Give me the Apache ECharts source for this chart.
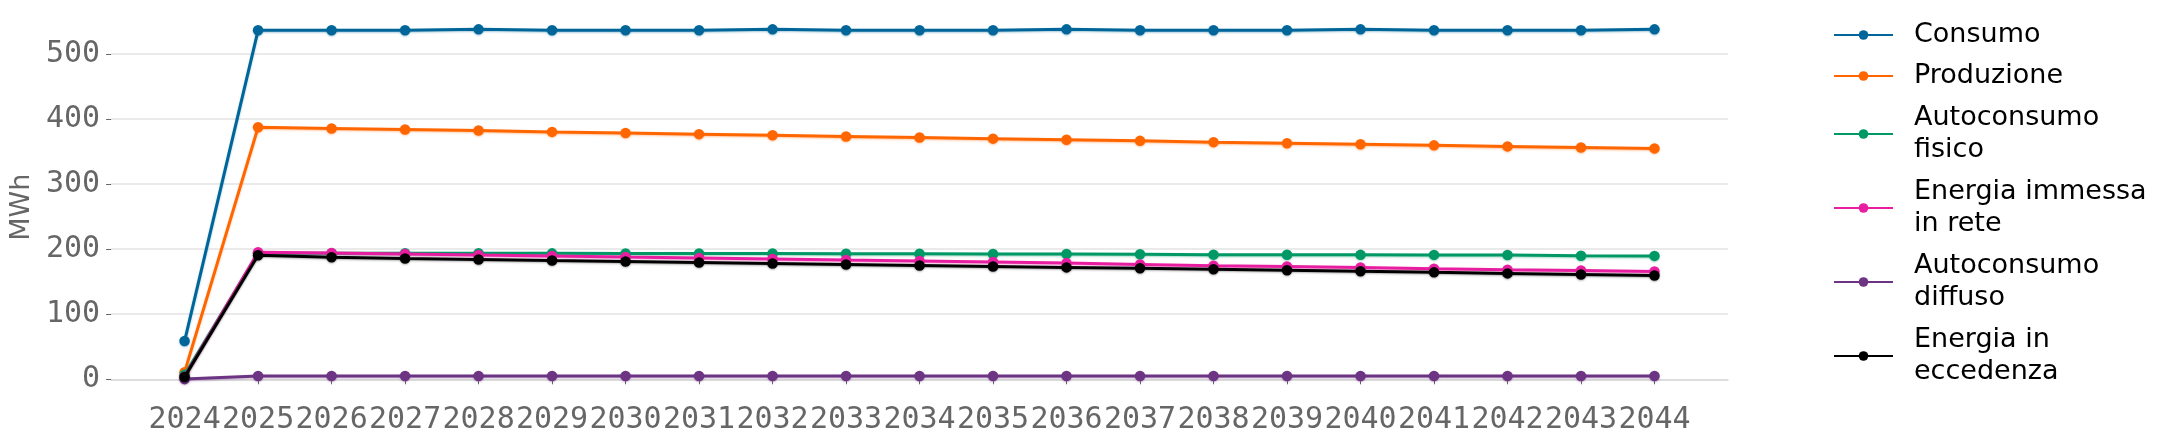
<!DOCTYPE html>
<html>
<head>
<meta charset="utf-8">
<script src="https://cdn.jsdelivr.net/npm/echarts@6/dist/echarts.min.js"></script>
<style>
html,body{margin:0;padding:0;background:#fff;}
#chart{width:2172px;height:445px;}
</style>
</head>
<body>
<div id="chart"></div>
<script>
var years = ['2024','2025','2026','2027','2028','2029','2030','2031','2032','2033','2034','2035','2036','2037','2038','2039','2040','2041','2042','2043','2044'];
var consumo = [58.8,536.4,536.4,536.4,537.9,536.4,536.4,536.4,537.9,536.4,536.4,536.4,537.9,536.4,536.4,536.4,537.9,536.4,536.4,536.4,537.9];
var produzione = [11,387.3,385.6,384.0,382.4,380.3,378.5,376.8,375.1,373.3,371.6,369.9,368.2,366.5,364.5,362.8,361.2,359.6,358.0,356.4,354.9];
var autoconsumoFisico = [7,193.8,193.8,193.7,193.7,193.6,193.5,193.4,193.3,193.1,193.0,192.7,192.5,192.2,191.6,191.4,191.3,191.2,191.0,189.8,189.7];
var energiaImmessa = [4,195.4,194.0,192.6,191.1,189.7,188.1,186.6,185.0,183.4,181.9,180.3,178.6,176.5,174.4,173.3,171.8,169.9,168.3,167.1,165.6];
var autoconsumoDiffuso = [0.5,5.1,5.1,5.1,5.1,5.1,5.1,5.1,5.1,5.1,5.1,5.1,5.1,5.1,5.1,5.1,5.1,5.1,5.1,5.1,5.1];
var energiaEccedenza = [3.5,190.8,187.7,185.8,184.2,182.5,181.0,179.5,178.0,176.5,175.0,173.5,172.0,170.6,169.1,167.7,166.2,164.4,162.8,161.2,159.6];
var yMin = 0, yMax = 583, yStep = 100;

var names = ['Consumo','Produzione','Autoconsumo\nfisico','Energia immessa\nin rete','Autoconsumo\ndiffuso','Energia in\neccedenza'];
var colors = ['#006699','#ff6600','#009966','#e81ea0','#6c3483','#000000'];
var shadows = ['rgba(0,102,153,0.35)','rgba(255,102,0,0.35)','rgba(0,153,102,0.35)','rgba(232,30,160,0.35)','rgba(108,52,131,0.35)','rgba(0,0,0,0.3)'];
var values = [consumo, produzione, autoconsumoFisico, energiaImmessa, autoconsumoDiffuso, energiaEccedenza];

var cats = [''].concat(years).concat(['']);

var series = names.map(function(n, i){
  return {
    name: n,
    type: 'line',
    data: years.map(function(y, j){ return [y, values[i][j]]; }),
    symbol: 'circle',
    symbolSize: 10.5,
    clip: false,
    z: 2 + i,
    itemStyle: {color: colors[i], shadowColor: shadows[i], shadowBlur: 2, shadowOffsetY: 1},
    lineStyle: {color: colors[i], width: 3, shadowColor: shadows[i], shadowBlur: 2, shadowOffsetY: 1},
    emphasis: {disabled: true}
  };
});

var legendText = {fontFamily: 'DejaVu Sans', fontSize: 27, color: '#000', lineHeight: 32, padding: [0,0,0,16]};

var chart = echarts.init(document.getElementById('chart'), null, {renderer: 'canvas'});
chart.setOption({
  animation: false,
  backgroundColor: '#fff',
  grid: {left: 108, right: 444, top: 0, bottom: 65.7, containLabel: false},
  legend: [
    {data: names.slice(0,2), orient: 'vertical', left: 1828, top: 14, itemWidth: 59, itemHeight: 12, itemGap: 9, textStyle: legendText, selectedMode: false},
    {data: names.slice(2), orient: 'vertical', left: 1828, top: 97, itemWidth: 59, itemHeight: 12, itemGap: 10, textStyle: legendText, selectedMode: false}
  ],
  xAxis: {
    type: 'category',
    data: cats,
    boundaryGap: false,
    offset: 17,
    axisLine: {show: true, lineStyle: {color: '#d9d9d9', width: 1.5}},
    axisTick: {show: true, length: 5, lineStyle: {color: '#666', width: 1}, interval: function(idx, val){ return val !== ''; }},
    axisLabel: {interval: function(idx, val){ return val !== ''; }, fontFamily: 'DejaVu Sans Mono', fontSize: 30, color: '#666', margin: 9},
    splitLine: {show: false}
  },
  yAxis: {
    type: 'value',
    min: yMin,
    max: yMax,
    interval: yStep,
    name: 'MWh',
    nameLocation: 'middle',
    nameGap: 68,
    nameTextStyle: {fontFamily: 'DejaVu Sans', fontSize: 27, color: '#666', padding: [0, 35, 0, 0]},
    axisLine: {show: false},
    axisTick: {show: true, length: 5, lineStyle: {color: '#666', width: 1}},
    axisLabel: {fontFamily: 'DejaVu Sans Mono', fontSize: 30, color: '#666', margin: 11, showMaxLabel: false},
    splitLine: {show: true, showMaxLine: false, lineStyle: {color: '#e3e3e3', width: 1.5}}
  },
  series: series
});
</script>
</body>
</html>
